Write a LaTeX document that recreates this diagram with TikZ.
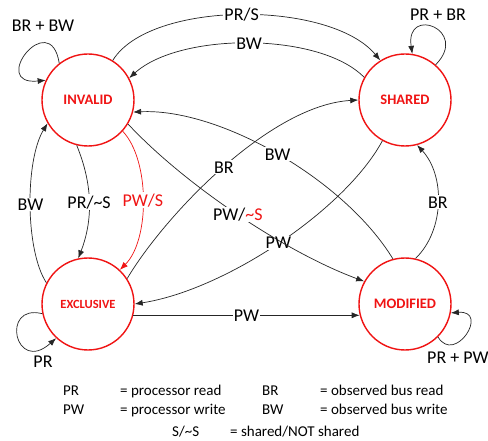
\documentclass[tikz,border=0pt]{standalone}
\usepackage{fontspec}
\setmainfont{Carlito}
\usetikzlibrary{arrows.meta}
\definecolor{stred}{RGB}{240,20,20}
\begin{document}
\begin{tikzpicture}[x=1pt,y=-1pt,
  state/.style={circle,draw=stred,line width=1.4pt,minimum size=92pt,inner sep=0pt,text=stred,font=\fontsize{14.5}{16}\selectfont\bfseries},
  edge/.style={draw=black!85,line width=0.7pt,-{Latex[length=8pt,width=6pt]}},
  lbl/.style={fill=white,inner sep=1.2pt,font=\fontsize{18}{20}\selectfont},
  looplbl/.style={inner sep=0pt,font=\fontsize{18}{20}\selectfont},
  leg/.style={anchor=base west,inner sep=0pt,font=\fontsize{15}{17}\selectfont}]
\useasboundingbox (0,0) rectangle (488,441);
\fill[white] (0,0) rectangle (488,441);

\node[state] (I) at (88,100) {INVALID};
\node[state] (S) at (405,100) {SHARED};
\node[state,font=\fontsize{12.5}{14}\selectfont\bfseries] (E) at (88,304) {EXCLUSIVE};
\node[state] (M) at (405,304) {MODIFIED};

% self loops
\draw[edge] (I.128) .. controls (50,6) and (-12,86) .. (I.155);
\node[looplbl] (lI) at (43,26) {BR + BW};
\draw[edge] (S.49) .. controls (470,30) and (405,5) .. (S.81);
\node[looplbl] (lS) at (438,15) {PR + BR};
\draw[edge] (E.192) .. controls (0,303) and (15,375) .. (E.227);
\node[looplbl] (lE) at (43,362) {PR};
\draw[edge] (M.-45) .. controls (455,365) and (490,310) .. (M.-11);
\node[looplbl,anchor=west] (lM) at (427,358) {PR + PW};

% top edges
\draw[edge] (I.58) .. controls (150,0) and (330,0) .. (S.122) node[pos=0.5,lbl] (tPRS) {PR/S};
\draw[edge] (S.151) .. controls (320,32) and (180,32) .. (I.28) node[pos=0.5,lbl] (tBWtop) {BW};

% left edges
\draw[edge] (I.256) .. controls (93,185) and (93,220) .. (E.102) node[pos=0.5,lbl] (tPRnS) {PR/\textasciitilde S};
\draw[edge] (E.153) .. controls (25,250) and (25,160) .. (I.210) node[pos=0.5,lbl] (tBWleft) {BW};
\draw[edge,draw=stred] (I.-42) .. controls (150,160) and (150,240) .. (E.47) node[pos=0.5,lbl,text=stred] (tPWS) {PW/S};

% diagonals
\draw[edge] (E.33) .. controls (165,215) and (270,105) .. (S.180) node[pos=0.5,lbl] (tBRd) {BR};
\draw[edge] (M.105) .. controls (345,180) and (220,108) .. (I.-15) node[pos=0.5,lbl] (tBWd) {BW};
\draw[edge] (S.241) .. controls (345,210) and (225,290) .. (E.0) node[pos=0.5,lbl] (tPWd) {PW};
\draw[edge] (I.-31) .. controls (185,185) and (285,252) .. (M.151) node[pos=0.5,lbl] (tPWnS) {PW/\textcolor{stred}{\textasciitilde S}};

% bottom and right
\draw[edge] (E.-14) -- (M.194) node[midway,lbl] (tPWb) {PW};
\draw[edge] (M.77) .. controls (445,230) and (445,175) .. (S.-75) node[pos=0.5,lbl] (tBRr) {BR};

% legend
\node[leg] (k1) at (63,395) {PR};
\node[leg] (v1) at (120,395) {= processor read};
\node[leg] (k2) at (262,395) {BR};
\node[leg] (v2) at (320,395) {= observed bus read};
\node[leg] (k3) at (63,414) {PW};
\node[leg] (v3) at (120,414) {= processor write};
\node[leg] (k4) at (262,414) {BW};
\node[leg] (v4) at (320,414) {= observed bus write};
\node[leg] (k5) at (172,436) {S/\textasciitilde S};
\node[leg] (v5) at (230,436) {= shared/NOT shared};
\end{tikzpicture}
\end{document}
